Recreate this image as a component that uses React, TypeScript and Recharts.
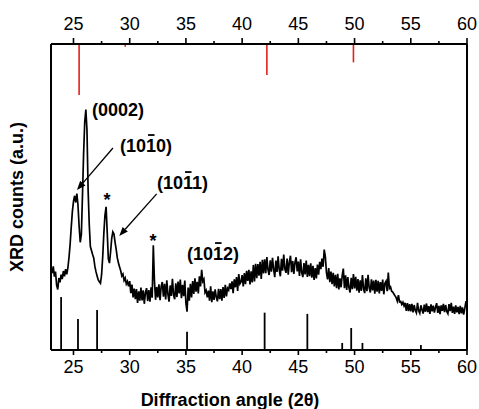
import React from 'react';
import { ComposedChart, Line, XAxis, YAxis, ReferenceLine, ReferenceDot } from 'recharts';

const ANGLE_START = 23;
const ANGLE_STEP = 0.1;
// XRD counts (a.u.), one row per degree from 23.0 to 59.9, then 60.0
const COUNTS = [
  26.5, 25.1, 27.3, 24.0, 25.6, 21.2, 19.8, 23.5, 22.1, 24.6,
  23.2, 25.8, 24.1, 26.4, 24.7, 26.8, 30.2, 34.5, 40.1, 45.2,
  48.6, 50.4, 48.2, 51.1, 47.3, 40.5, 35.2, 37.8, 50.5, 64.2,
  74.5, 78.6, 71.8, 52.4, 41.2, 33.8, 32.5, 31.2, 30.1, 27.4,
  25.6, 24.2, 22.9, 22.3, 21.8, 24.6, 30.5, 38.2, 44.1, 46.8,
  38.5, 29.8, 28.4, 32.1, 36.5, 38.6, 37.9, 35.2, 32.8, 30.1,
  28.4, 27.1, 25.9, 24.2, 24.8, 22.7, 23.5, 21.6, 22.4, 20.8,
  22.5, 18.6, 21.4, 17.2, 20.1, 16.6, 19.9, 15.4, 19.2, 16.1,
  20.4, 16.2, 19.5, 15.1, 18.8, 20.2, 16.0, 19.6, 15.8, 20.5,
  17.1, 34.2, 22.5, 16.4, 20.6, 17.2, 21.5, 16.3, 20.8, 22.2,
  17.4, 21.6, 16.5, 22.8, 18.2, 15.8, 21.1, 17.7, 23.3, 18.0,
  16.6, 21.8, 17.3, 22.4, 18.5, 23.0, 16.9, 21.3, 17.6, 22.7,
  15.2, 12.5, 20.4, 16.1, 21.6, 17.2, 22.5, 18.3, 23.4, 19.1,
  22.3, 18.5, 24.1, 20.8, 26.2, 22.4, 23.1, 18.8, 19.5, 17.2,
  19.4, 16.1, 20.8, 15.6, 19.2, 16.4, 19.8, 17.3, 15.9, 20.0,
  16.6, 19.9, 16.1, 20.6, 17.0, 21.3, 17.5, 20.2, 19.6, 21.8,
  19.9, 22.4, 18.6, 23.1, 20.5, 23.8, 19.3, 24.8, 21.6, 22.2,
  24.5, 20.8, 25.1, 21.5, 25.9, 22.6, 26.2, 21.4, 25.7, 22.1,
  27.8, 22.4, 28.2, 23.5, 28.1, 24.3, 28.8, 23.2, 29.5, 25.0,
  29.6, 25.1, 30.4, 26.2, 24.5, 29.3, 25.6, 30.1, 26.4, 23.8,
  29.2, 25.5, 30.6, 26.3, 24.1, 29.8, 25.9, 31.2, 26.5, 25.2,
  29.9, 24.6, 28.8, 30.8, 25.4, 29.1, 24.9, 28.6, 30.3, 25.7,
  28.9, 24.2, 29.6, 25.3, 23.8, 28.4, 24.7, 29.2, 23.9, 27.8,
  24.1, 28.3, 23.6, 27.5, 22.9, 26.8, 23.4, 27.9, 24.6, 28.8,
  26.4, 29.9, 27.2, 32.8, 30.5, 25.3, 23.1, 26.8, 22.2, 25.6,
  21.5, 25.2, 20.8, 24.6, 20.2, 24.9, 19.8, 23.4, 20.5, 24.3,
  26.6, 20.2, 24.4, 19.6, 23.8, 20.4, 18.8, 23.6, 19.9, 24.8,
  20.1, 23.9, 19.4, 23.2, 18.7, 22.8, 19.3, 24.5, 20.0, 18.6,
  23.4, 19.2, 24.6, 20.3, 18.8, 23.1, 19.5, 22.7, 18.4, 22.9,
  19.1, 22.6, 18.5, 22.2, 19.3, 23.0, 18.2, 21.8, 22.5, 19.2,
  25.3, 20.1, 20.6, 19.2, 18.9, 18.3, 17.7, 17.1, 16.0, 17.9,
  15.7, 15.9, 14.9, 15.6, 14.4, 15.4, 12.8, 15.3, 12.7, 15.0,
  12.6, 15.1, 12.3, 14.7, 12.9, 12.1, 15.4, 12.8, 12.0, 14.6,
  13.1, 11.9, 14.8, 12.5, 15.2, 12.4, 14.3, 11.8, 14.9, 12.6,
  14.5, 12.2, 14.0, 15.3, 12.1, 14.4, 11.7, 14.6, 12.8, 15.1,
  12.4, 14.7, 12.6, 11.9, 15.0, 12.7, 15.4, 12.1, 14.2, 11.8,
  14.6, 12.3, 14.1, 11.7, 14.4, 12.0, 13.9, 11.6, 13.5, 15.7,
  15.8,
];

const MAJOR_TICKS = [25, 30, 35, 40, 45, 50, 55, 60];
const MINOR_TICKS = [27.5, 32.5, 37.5, 42.5, 47.5, 52.5, 57.5];

// reference pattern (black, from bottom)
const REF_ANGLES = [23.9, 25.4, 27.1, 35.1, 42.0, 45.8, 48.9, 49.7, 50.7, 55.9];
const REF_HEIGHTS = [17.3, 10.1, 13.1, 6.0, 12.2, 11.8, 2.3, 7.2, 2.3, 1.6];

// second reference pattern (red, hanging from top)
const TOP_ANGLES = [25.5, 29.6, 42.2, 49.9];
const TOP_ENDS = [83.3, 99.1, 89.9, 94.0];

// peak labels: [prefix, barred digit, suffix], anchor angle, anchor counts
const LABEL_PREFIX = ['(0002)', '(10', '(10', '(10'];
const LABEL_BAR = ['', '1', '1', '1'];
const LABEL_SUFFIX = ['', '0)', '1)', '2)'];
const LABEL_ANGLE = [26.65, 29.14, 32.43, 35.1];
const LABEL_COUNTS = [76.5, 64.7, 52.6, 29.4];

const STAR_ANGLE = [27.98, 32.07];
const STAR_COUNTS = [47.0, 33.7];

const ARROW_FROM_ANGLE = [28.51, 32.4];
const ARROW_FROM_COUNTS = [66.0, 51.0];
const ARROW_TO_ANGLE = [25.31, 29.07];
const ARROW_TO_COUNTS = [52.3, 37.25];

const data = COUNTS.map((c, i) => ({
  angle: Math.round((ANGLE_START + i * ANGLE_STEP) * 10) / 10,
  counts: c,
}));

const FONT = 'Liberation Sans, Arial, Helvetica, sans-serif';
const ALL_TICKS = [...MAJOR_TICKS, ...MINOR_TICKS].sort((a, b) => a - b);

const BottomTick = (props: any) => {
  const { x, y, payload } = props;
  const major = MAJOR_TICKS.includes(payload.value);
  return (
    <g>
      <line x1={x} x2={x} y1={y} y2={y + (major ? 5 : 3)} stroke="#000" strokeWidth={1.6} />
      {major && (
        <text x={x} y={y + 23} textAnchor="middle" fontSize={18} fontFamily={FONT} fill="#000">
          {payload.value}
        </text>
      )}
    </g>
  );
};

const TopTick = (props: any) => {
  const { x, y, payload } = props;
  const major = MAJOR_TICKS.includes(payload.value);
  return (
    <g>
      <line x1={x} x2={x} y1={y} y2={y - (major ? 6 : 3)} stroke="#000" strokeWidth={1.6} />
      {major && (
        <text x={x} y={y - 14} textAnchor="middle" fontSize={18} fontFamily={FONT} fill="#000">
          {payload.value}
        </text>
      )}
    </g>
  );
};

const ArrowShape = (p: any) => {
  const { x1, y1, x2, y2 } = p;
  const dx = x2 - x1;
  const dy = y2 - y1;
  const len = Math.hypot(dx, dy) || 1;
  const ux = dx / len;
  const uy = dy / len;
  const hl = 9;
  const hw = 3.5;
  const bx = x2 - ux * hl;
  const by = y2 - uy * hl;
  return (
    <g>
      <line x1={x1} y1={y1} x2={bx} y2={by} stroke="#000" strokeWidth={1.3} />
      <polygon
        points={`${x2},${y2} ${bx - uy * hw},${by + ux * hw} ${bx + uy * hw},${by - ux * hw}`}
        fill="#000"
      />
    </g>
  );
};

const makeLabelShape = (i: number) => (p: any) => {
  const { cx, cy } = p;
  const fs = 18;
  const prefixW = fs * (0.333 + 1.112);
  return (
    <g>
      <text x={cx} y={cy} fontSize={fs} fontWeight="bold" fontFamily={FONT} fill="#000">
        {LABEL_PREFIX[i] + LABEL_BAR[i] + LABEL_SUFFIX[i]}
      </text>
      {LABEL_BAR[i] && (
        <line
          x1={cx + prefixW + 2}
          x2={cx + prefixW + 8.5}
          y1={cy - 17}
          y2={cy - 17}
          stroke="#000"
          strokeWidth={1.8}
        />
      )}
    </g>
  );
};

const StarShape = (p: any) => (
  <text x={p.cx} y={p.cy} textAnchor="middle" fontSize={18} fontWeight="bold" fontFamily={FONT} fill="#000">
    *
  </text>
);

export default function App() {
  return (
    <div style={{ position: 'absolute', left: 0, top: 0, width: 479, height: 409, background: '#fff' }}>
      <ComposedChart
        width={479}
        height={409}
        data={data}
        margin={{ top: 14, right: 0, bottom: 29, left: 0 }}
      >
        <XAxis
          xAxisId="b"
          dataKey="angle"
          type="number"
          domain={[23, 60]}
          ticks={ALL_TICKS}
          interval={0}
          height={30}
          tickSize={0}
          tickMargin={0}
          tickLine={false}
          axisLine={{ stroke: '#000', strokeWidth: 2 }}
          tick={<BottomTick />}
          allowDataOverflow
          label={{
            content: (lp: any) => {
              const vb = lp.viewBox || { x: 51, y: 350, width: 416 };
              return (
                <text
                  x={vb.x + vb.width / 2 - 29}
                  y={406}
                  textAnchor="middle"
                  fontSize={18}
                  fontWeight="bold"
                  fontFamily={FONT}
                  fill="#000"
                >
                  Diffraction angle (2θ)
                </text>
              );
            },
          }}
        />
        <XAxis
          xAxisId="t"
          dataKey="angle"
          type="number"
          orientation="top"
          domain={[23, 60]}
          ticks={ALL_TICKS}
          interval={0}
          height={30}
          tickSize={0}
          tickMargin={0}
          tickLine={false}
          axisLine={{ stroke: '#000', strokeWidth: 2 }}
          tick={<TopTick />}
          allowDataOverflow
        />
        <YAxis
          yAxisId="l"
          type="number"
          domain={[0, 100]}
          width={51}
          tick={false}
          tickLine={false}
          axisLine={{ stroke: '#000', strokeWidth: 2 }}
          allowDataOverflow
          label={{
            content: () => (
              <text
                x={0}
                y={0}
                transform="translate(23,197) rotate(-90)"
                textAnchor="middle"
                fontSize={18}
                fontWeight="bold"
                fontFamily={FONT}
                fill="#000"
              >
                XRD counts (a.u.)
              </text>
            ),
          }}
        />
        <YAxis
          yAxisId="r"
          orientation="right"
          type="number"
          domain={[0, 100]}
          width={12}
          tick={false}
          tickLine={false}
          axisLine={{ stroke: '#000', strokeWidth: 2 }}
        />

        {REF_ANGLES.map((a, i) => (
          <ReferenceLine
            key={'ref' + i}
            xAxisId="b"
            yAxisId="l"
            segment={[{ x: a, y: 0 }, { x: a, y: REF_HEIGHTS[i] }]}
            stroke="#000"
            strokeWidth={1.8}
          />
        ))}
        {TOP_ANGLES.map((a, i) => (
          <ReferenceLine
            key={'top' + i}
            xAxisId="b"
            yAxisId="l"
            segment={[{ x: a, y: 100 }, { x: a, y: TOP_ENDS[i] }]}
            stroke="#e3211c"
            strokeWidth={1.6}
          />
        ))}

        <Line
          xAxisId="b"
          yAxisId="l"
          dataKey="counts"
          type="linear"
          stroke="#000"
          strokeWidth={1.7}
          dot={false}
          activeDot={false}
          isAnimationActive={false}
        />

        {ARROW_FROM_ANGLE.map((a, i) => (
          <ReferenceLine
            key={'arr' + i}
            xAxisId="b"
            yAxisId="l"
            segment={[
              { x: a, y: ARROW_FROM_COUNTS[i] },
              { x: ARROW_TO_ANGLE[i], y: ARROW_TO_COUNTS[i] },
            ]}
            shape={ArrowShape}
          />
        ))}
        {LABEL_ANGLE.map((a, i) => (
          <ReferenceDot
            key={'lab' + i}
            xAxisId="b"
            yAxisId="l"
            x={a}
            y={LABEL_COUNTS[i]}
            r={0}
            shape={makeLabelShape(i)}
          />
        ))}
        {STAR_ANGLE.map((a, i) => (
          <ReferenceDot
            key={'star' + i}
            xAxisId="b"
            yAxisId="l"
            x={a}
            y={STAR_COUNTS[i]}
            r={0}
            shape={StarShape}
          />
        ))}
      </ComposedChart>
    </div>
  );
}
